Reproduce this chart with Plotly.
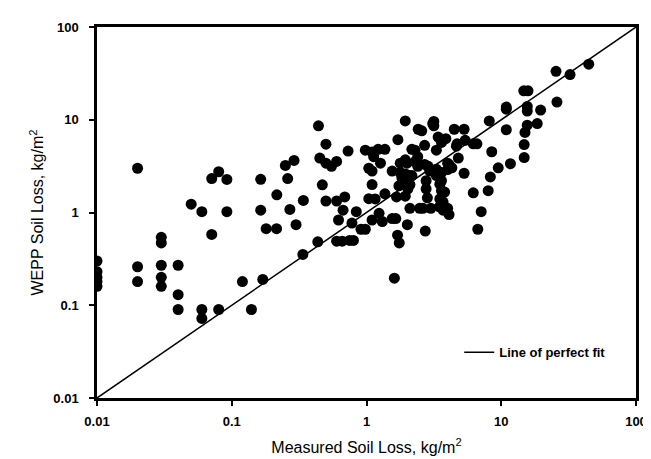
import plotly.graph_objects as go

# Measured soil loss (kg/m2) and WEPP-predicted soil loss (kg/m2)
measured = [
    0.01, 0.01, 0.01, 0.01, 0.01, 0.02, 0.02, 0.02, 0.03, 0.03,
    0.03, 0.03, 0.03, 0.04, 0.04, 0.04, 0.05, 0.06, 0.06, 0.06,
    0.071, 0.071, 0.08, 0.08, 0.092, 0.092, 0.12, 0.14, 0.164, 0.164,
    0.17, 0.18, 0.215, 0.216, 0.26, 0.25, 0.29, 0.27, 0.30, 0.34,
    0.337, 0.435, 0.44, 0.45, 0.47, 0.50, 0.50, 0.50, 0.55, 0.60,
    0.60, 0.60, 0.66, 0.62, 0.67, 0.69, 0.73, 0.75, 0.80, 0.78,
    0.84, 0.91, 0.98, 0.98, 1.04, 1.04, 1.1, 1.1, 1.13, 1.1,
    1.16, 1.1, 1.24, 1.27, 1.31, 1.22, 1.37, 1.37, 1.55, 1.65,
    1.55, 1.61, 1.70, 1.75, 1.67, 1.74, 1.71, 1.78, 1.78, 1.83,
    1.94, 1.94, 1.94, 2.0, 1.94, 1.9, 2.01, 2.03, 2.03, 2.1,
    2.1, 2.17, 2.17, 2.3, 2.29, 2.42, 2.4, 2.4, 2.48, 2.57,
    2.62, 2.7, 2.7, 2.73, 2.77, 2.77, 2.83, 2.87, 2.95, 3.0,
    3.1, 3.16, 3.16, 3.3, 3.3, 3.3, 3.4, 3.6, 3.6, 3.5,
    3.6, 3.6, 3.8, 3.5, 3.7, 3.47, 3.7, 3.88, 3.88, 4.0,
    4.0, 4.1, 4.3, 4.0, 4.1, 4.48, 5.3, 4.7, 4.65, 4.8,
    5.4, 6.2, 6.6, 5.3, 6.2, 6.7, 7.1, 8.0, 8.15, 8.3,
    8.5, 9.5, 10.9, 10.9, 10.9, 11.7, 14.8, 14.8, 15.0, 15.6,
    18.5, 15.6, 15.6, 19.6, 14.7, 15.8, 25.9, 25.5, 32.4, 44.6,
]
wepp = [
    0.30, 0.23, 0.20, 0.18, 0.16, 3.0, 0.26, 0.18, 0.54, 0.47,
    0.27, 0.20, 0.16, 0.27, 0.13, 0.09, 1.23, 1.02, 0.09, 0.072,
    2.32, 0.58, 2.75, 0.09, 2.27, 1.02, 0.18, 0.09, 2.28, 1.06,
    0.19, 0.67, 0.67, 1.55, 2.32, 3.22, 3.64, 1.08, 0.74, 1.35,
    0.353, 0.483, 8.6, 3.86, 1.99, 5.45, 3.4, 1.33, 3.15, 3.55,
    1.33, 0.49, 0.49, 0.83, 1.06, 1.47, 4.6, 0.50, 0.50, 0.77,
    1.02, 0.66, 0.66, 4.7, 1.41, 3.0, 2.8, 4.5, 4.0, 0.83,
    1.4, 2.0, 0.98, 3.4, 0.80, 4.8, 4.8, 1.59, 0.86, 0.86,
    2.8, 0.196, 0.57, 0.47, 1.47, 1.94, 6.1, 3.4, 2.7, 2.38,
    1.5, 9.7, 3.7, 3.4, 2.6, 2.2, 0.74, 1.8, 2.52, 2.0,
    1.11, 2.5, 4.8, 3.55, 4.7, 7.9, 4.0, 3.15, 1.11, 7.6,
    1.11, 5.3, 3.3, 0.63, 2.2, 1.8, 1.44, 3.15, 2.8, 1.11,
    9.1, 9.6, 8.6, 4.7, 2.93, 2.5, 6.5, 5.7, 2.7, 2.02,
    2.2, 1.72, 1.66, 1.40, 1.3, 1.15, 1.06, 1.11, 6.25, 3.4,
    2.9, 3.28, 3.03, 1.11, 0.95, 7.9, 7.9, 5.5, 5.19, 3.86,
    6.0, 5.5, 5.5, 2.65, 1.63, 0.66, 1.02, 1.72, 9.7, 2.42,
    4.52, 3.03, 13.7, 13.0, 7.8, 3.36, 5.4, 3.91, 7.3, 8.75,
    9.1, 13.9, 12.4, 12.7, 20.5, 20.5, 15.5, 33.3, 30.7, 39.7,
]
fit_line = [0.01, 100]
tick_vals = [0.01, 0.1, 1, 10, 100]
tick_text = ["0.01", "0.1", "1", "10", "100"]

FONT = "Liberation Sans, Arial, sans-serif"

fig = go.Figure()
fig.add_trace(go.Scatter(
    x=measured, y=wepp, mode="markers",
    marker=dict(color="black", size=11, line=dict(width=0)),
    showlegend=False, name="Data",
))
fig.add_trace(go.Scatter(
    x=fit_line, y=fit_line, mode="lines",
    line=dict(color="black", width=1.5),
    name="Line of perfect fit",
))

axis_common = dict(
    type="log", range=[-2, 2], tickvals=tick_vals, ticktext=tick_text,
    ticks="outside", ticklen=5, tickwidth=1.5, tickcolor="black",
    showgrid=False, zeroline=False, showline=True, linewidth=2.5,
    linecolor="black", mirror=True,
    tickfont=dict(family=FONT, size=13, color="black", weight="bold"),
)

fig.update_layout(
    width=651, height=459,
    margin=dict(l=89, r=12, t=19, b=59),
    paper_bgcolor="white", plot_bgcolor="white",
    xaxis=dict(axis_common, ticklabelstandoff=5, title=dict(
        text="Measured Soil Loss, kg/m<sup>2</sup>",
        font=dict(family=FONT, size=16, color="black"), standoff=14)),
    yaxis=dict(axis_common, ticklabelstandoff=8, title=dict(
        text="WEPP Soil Loss, kg/m<sup>2</sup>",
        font=dict(family=FONT, size=16, color="black"), standoff=6)),
    legend=dict(
        x=0.672, y=0.123, xanchor="left", yanchor="middle",
        bgcolor="rgba(0,0,0,0)", borderwidth=0,
        font=dict(family=FONT, size=13, color="black", weight="bold"),
        itemwidth=30,
    ),
    showlegend=True,
)

fig.write_html("out.html")
